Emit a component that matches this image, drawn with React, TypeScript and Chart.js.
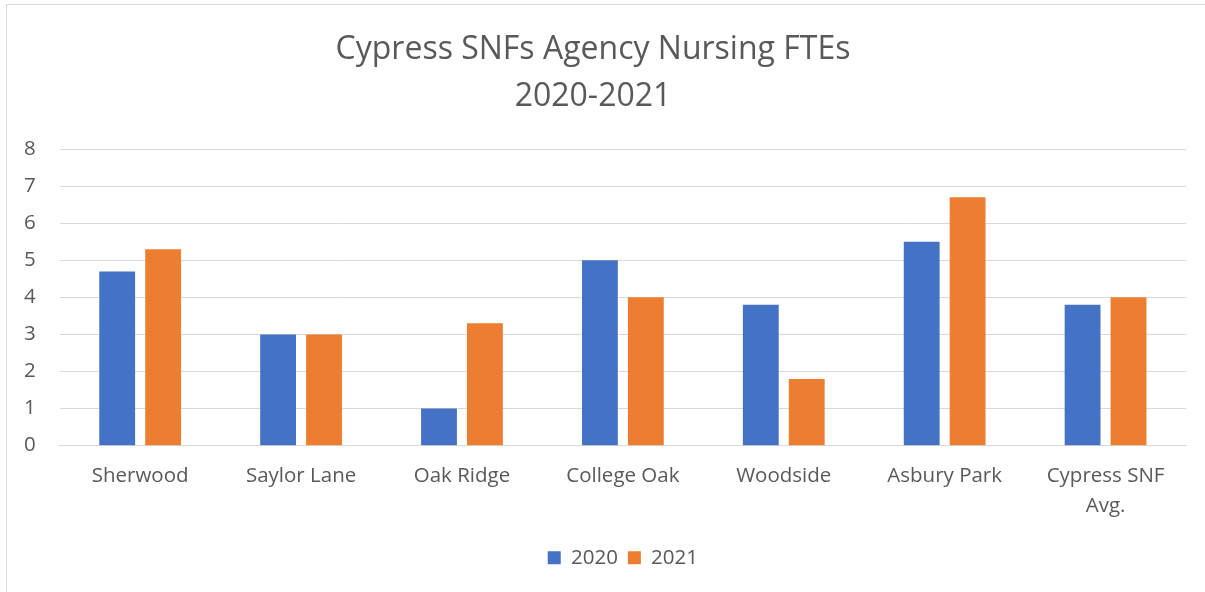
import React, { useEffect, useRef } from "react";
import { Chart, registerables } from "chart.js";

Chart.register(...registerables);

const categories: (string | string[])[] = [
  "Sherwood",
  "Saylor Lane",
  "Oak Ridge",
  "College Oak",
  "Woodside",
  "Asbury Park",
  ["Cypress SNF", "Avg."],
];
const values2020 = [4.7, 3, 1, 5, 3.8, 5.5, 3.8];
const values2021 = [5.3, 3, 3.3, 4, 1.8, 6.7, 4];
const yTicks = [0, 1, 2, 3, 4, 5, 6, 7, 8];
const titleLines = ["Cypress SNFs Agency Nursing FTEs", "2020-2021"];

const FONT = "'Open Sans', 'Liberation Sans', sans-serif";
const TEXT = "#595959";

export default function App() {
  const ref = useRef<HTMLCanvasElement>(null);
  useEffect(() => {
    if (!ref.current) return;
    const chart = new Chart(ref.current, {
      type: "bar",
      data: {
        labels: categories,
        datasets: [
          { label: "2020", data: values2020, backgroundColor: "#4472C4", categoryPercentage: 0.571, barPercentage: 0.78 },
          { label: "2021", data: values2021, backgroundColor: "#ED7D31", categoryPercentage: 0.571, barPercentage: 0.78 },
        ],
      },
      options: {
        animation: false,
        responsive: false,
        maintainAspectRatio: false,
        layout: { padding: { left: 0, right: 19, top: 0, bottom: 14 } },
        plugins: {
          title: {
            display: true,
            text: titleLines,
            color: TEXT,
            font: { family: FONT, size: 32, weight: "normal", lineHeight: 1.47 },
            padding: { top: 26, bottom: 29 },
          },
          legend: {
            position: "bottom",
            fullSize: false,
            labels: {
              color: TEXT,
              boxWidth: 13,
              boxHeight: 13,
              font: { family: FONT, size: 20.5 },
              padding: 10,
            },
          },
          tooltip: { enabled: false },
        },
        scales: {
          x: {
            grid: { display: false, drawTicks: false },
            border: { display: true, color: "#d9d9d9", width: 1 },
            ticks: {
              color: TEXT,
              font: { family: FONT, size: 20.5, lineHeight: 1.46 },
              padding: 16,
              maxRotation: 0,
              autoSkip: false,
            },
          },
          y: {
            min: 0,
            max: 8,
            afterBuildTicks: (axis: any) => {
              axis.ticks = yTicks.map((v) => ({ value: v }));
            },
            grid: { color: "#d9d9d9", drawTicks: false },
            border: { display: false },
            ticks: {
              color: TEXT,
              font: { family: FONT, size: 20.5 },
              padding: 24,
            },
          },
        },
      },
    });
    return () => chart.destroy();
  }, []);
  return (
    <div style={{ position: "fixed", left: 0, top: 0, width: 1205, height: 592, background: "#fff" }}>
      <canvas ref={ref} width={1205} height={592} style={{ position: "absolute", left: 0, top: 0 }} />
      <div
        style={{
          position: "absolute",
          left: 6,
          top: 4,
          width: 1300,
          height: 700,
          borderLeft: "1px solid #d9d9d9",
          borderTop: "1px solid #d9d9d9",
          pointerEvents: "none",
        }}
      />
    </div>
  );
}
